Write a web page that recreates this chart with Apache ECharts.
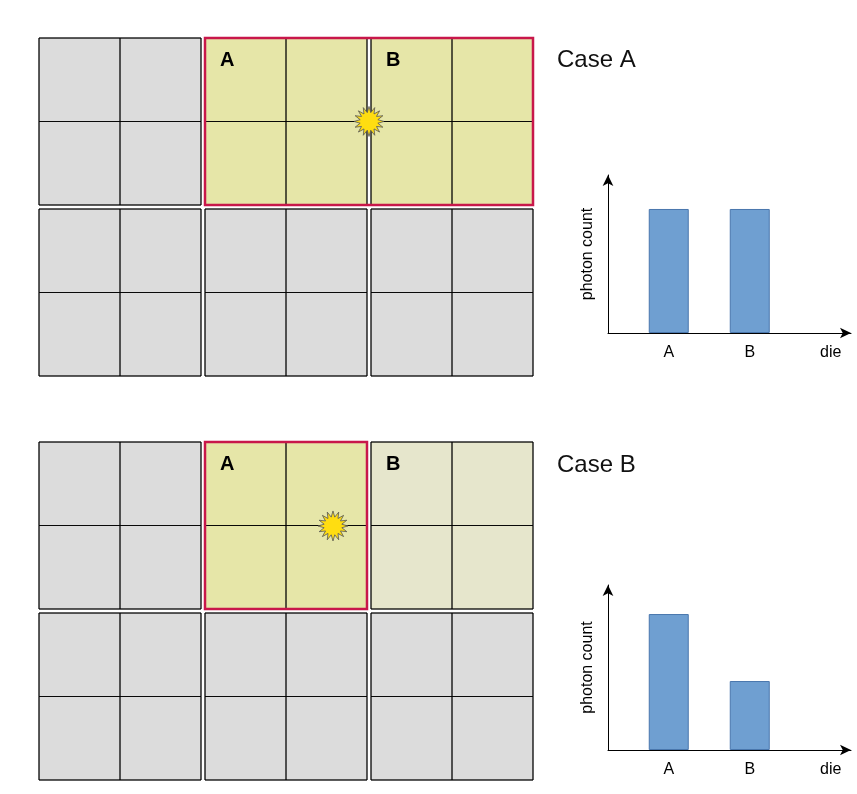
<!DOCTYPE html>
<html><head><meta charset="utf-8">
<script src="https://cdn.jsdelivr.net/npm/echarts@6/dist/echarts.min.js"></script>
<style>html,body{margin:0;padding:0;background:#fff}#c{width:857px;height:794px}</style>
</head><body><div id="c"></div>
<script>
// ---- data ----
const caseTitles = ['Case A', 'Case B'];
const dieCategories = ['', 'A', '', 'B', '', 'die'];
const photonTop = [null, 0.785, null, 0.785, null, null];
const photonBottom = [null, 0.824, null, 0.418, null, null];
// die grid: [col, row, state, label]  state: g=grey, a=active, p=pale
const diesTop = [[0,0,'g',''],[1,0,'a','A'],[2,0,'a','B'],[0,1,'g',''],[1,1,'g',''],[2,1,'g','']];
const diesBottom = [[0,0,'g',''],[1,0,'a','A'],[2,0,'p','B'],[0,1,'g',''],[1,1,'g',''],[2,1,'g','']];
// highlighted region [c0, r0, c1, r1]
const regionTop = [[1,0,3,1]];
const regionBottom = [[1,0,2,1]];
// light-source positions in die units
const starTop = [[1.988, 0.488]];
const starBottom = [[1.771, 0.491]];

const fills = {g:'#dcdcdc', a:'#e6e6a8', p:'#e6e6cc'};
const font = '"Liberation Sans", Arial, sans-serif';

function starPath(n){
  let d='';
  for(let i=0;i<2*n;i++){
    const r = i%2===0 ? 50 : 30;
    const a = Math.PI*i/n - Math.PI/2;
    d += (i===0?'M':'L') + (50+r*Math.cos(a)).toFixed(2)+' '+(50+r*Math.sin(a)).toFixed(2)+' ';
  }
  return 'path://'+d+'Z';
}
const starSym = starPath(16);

function dieRender(params, api){
  const c = api.value(0), r = api.value(1);
  const st = diesAll[params.seriesIndex][params.dataIndex][2];
  const lab = diesAll[params.seriesIndex][params.dataIndex][3];
  const p = api.coord([c, r]);
  const u = api.size([1, 1]);
  const w = u[0]-4, h = u[1]-4;
  const ch = [{type:'rect', shape:{x:p[0],y:p[1],width:w,height:h}, style:{fill:fills[st], stroke:'#000', lineWidth:0.8}}];
  for(let i=0;i<2;i++)for(let j=0;j<2;j++){
    ch.push({type:'rect', shape:{x:p[0]+i*w/2,y:p[1]+j*h/2,width:w/2,height:h/2}, style:{fill:'none', stroke:'#000', lineWidth:0.8}});
  }
  if(lab) ch.push({type:'text', style:{x:p[0]+15, y:p[1]+22, text:lab, font:'bold 20px '+font, fill:'#000', verticalAlign:'middle'}});
  return {type:'group', children:ch};
}
const diesAll = {};
function regionRender(params, api){
  const a = api.coord([api.value(0), api.value(1)]);
  const b = api.coord([api.value(2), api.value(3)]);
  return {type:'rect', shape:{x:a[0], y:a[1], width:b[0]-a[0]-4, height:b[1]-a[1]-4}, style:{fill:'none', stroke:'#c8174a', lineWidth:2.5}};
}

const hiddenAxisV = (gi, max, inv) => ({gridIndex:gi, type:'value', min:0, max:max, inverse:!!inv, show:false});

const option = {
  animation:false,
  title: [
    {text:caseTitles[0], left:552, top:43, textStyle:{fontSize:24, fontWeight:'normal', fontFamily:font, color:'#111'}},
    {text:caseTitles[1], left:552, top:448, textStyle:{fontSize:24, fontWeight:'normal', fontFamily:font, color:'#111'}}
  ],
  grid: [
    {left:39, top:38, width:498, height:342},
    {left:39, top:442, width:498, height:342},
    {left:608, top:175, width:243, height:158},
    {left:608, top:585, width:243, height:165}
  ],
  xAxis: [
    hiddenAxisV(0,3), hiddenAxisV(1,3),
    ...[2,3].map(g => ({gridIndex:g, type:'category', data:dieCategories, boundaryGap:true,
      axisTick:{show:false}, axisLine:{lineStyle:{color:'#000', width:1}, symbol:['none','arrow'], symbolSize:[8,11]},
      axisLabel:{color:'#000', fontSize:16, fontFamily:font, margin:12, interval:0}}))
  ],
  yAxis: [
    hiddenAxisV(0,2,true), hiddenAxisV(1,2,true),
    ...[2,3].map(g => ({gridIndex:g, type:'value', min:0, max:1, splitLine:{show:false},
      axisTick:{show:false}, axisLabel:{show:false},
      axisLine:{show:true, lineStyle:{color:'#000', width:1}, symbol:['none','arrow'], symbolSize:[8,11]},
      name:'photon count', nameLocation:'middle', nameGap:12, nameRotate:90,
      nameTextStyle:{color:'#000', fontSize:16, fontFamily:font}}))
  ],
  series: [
    {type:'custom', xAxisIndex:0, yAxisIndex:0, data:diesTop.map(d=>[d[0],d[1]]), renderItem:dieRender, z:1},
    {type:'custom', xAxisIndex:1, yAxisIndex:1, data:diesBottom.map(d=>[d[0],d[1]]), renderItem:dieRender, z:1},
    {type:'custom', xAxisIndex:0, yAxisIndex:0, data:regionTop, renderItem:regionRender, z:2},
    {type:'custom', xAxisIndex:1, yAxisIndex:1, data:regionBottom, renderItem:regionRender, z:2},
    {type:'scatter', xAxisIndex:0, yAxisIndex:0, data:starTop, symbol:starSym, symbolSize:30, itemStyle:{color:'#ffdd11', borderColor:'#555', borderWidth:0.8, opacity:1}, z:3},
    {type:'scatter', xAxisIndex:1, yAxisIndex:1, data:starBottom, symbol:starSym, symbolSize:30, itemStyle:{color:'#ffdd11', borderColor:'#555', borderWidth:0.8, opacity:1}, z:3},
    {type:'bar', xAxisIndex:2, yAxisIndex:2, data:photonTop, barWidth:40, itemStyle:{color:'#6f9fd1', borderColor:'#4a77ad', borderWidth:1}},
    {type:'bar', xAxisIndex:3, yAxisIndex:3, data:photonBottom, barWidth:40, itemStyle:{color:'#6f9fd1', borderColor:'#4a77ad', borderWidth:1}}
  ]
};
diesAll[0] = diesTop; diesAll[1] = diesBottom;
echarts.init(document.getElementById('c'), null, {renderer:'canvas'}).setOption(option);
</script></body></html>
